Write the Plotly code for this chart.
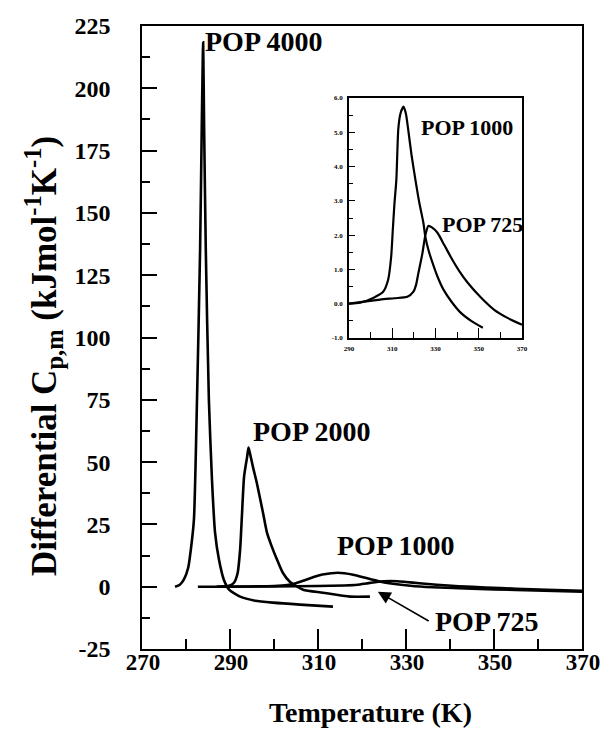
import plotly.graph_objects as go

# ---------------- data (main plot) ----------------
pop4000_T = [277.5, 278.6, 279.5, 280.5, 281.1, 281.8, 282.5, 283.2, 283.6, 283.9, 284.1, 284.5, 285.2,
             285.9, 286.6, 287.5, 288.6, 289.8, 292.3, 295.7, 299.8, 305.9, 313.4]
pop4000_v = [0, 0.8, 2.8, 7.6, 14.9, 26.9, 75, 135, 187, 218.5, 187, 135, 75,
             43, 21.7, 10.8, 2.8, -1.2, -4.0, -5.6, -6.4, -7.2, -8.0]

pop2000_T = [282.7, 287.7, 289.8, 290.9, 291.7, 292.3, 292.7, 293.2, 293.9, 294.2, 294.5, 295.2, 296.1,
             297.5, 298.4, 299.5, 300.7, 302.0, 303.6, 306.6, 311.1, 317.3, 321.8]
pop2000_v = [0, 0, 0.4, 1.6, 5.2, 14.9, 28.1, 44.2, 52.2, 55.8, 53.8, 48.2, 41.6,
             29.7, 21.7, 16.1, 10.8, 5.6, 2.0, -1.2, -2.4, -4.0, -4.0]

pop1000_T = [287, 295, 300, 303, 305, 307, 309, 311, 313, 314.5, 316, 318, 320, 322, 324, 327, 331, 336,
             345, 355, 370]
pop1000_v = [0, 0.1, 0.3, 0.7, 1.4, 2.6, 3.9, 4.9, 5.4, 5.6, 5.4, 4.8, 3.9, 3.0, 2.1, 1.2, 0.4, -0.2,
             -0.8, -1.3, -2.0]

pop725_T = [287, 300, 310, 316, 319, 321, 323, 325, 326.5, 328, 330, 333, 337, 342, 348, 355, 362, 370]
pop725_v = [0, 0.1, 0.3, 0.5, 0.8, 1.3, 1.8, 2.2, 2.3, 2.2, 1.9, 1.4, 0.8, 0.2, -0.3, -0.8, -1.2, -1.6]

# ---------------- data (inset) ----------------
in1000_T = [290, 295.1, 301.2, 305.8, 308.1, 309.5, 310.3, 311.0, 311.9, 312.8, 313.8, 315.2, 316.3,
            317.4, 319.0, 320.7, 322.5, 324.4, 325.3, 326.8, 328.6, 331.0, 333.7, 337.5, 341.6, 346.5, 351.9]
in1000_v = [0, 0.03, 0.17, 0.35, 0.70, 1.37, 2.2, 2.9, 3.62, 5.1, 5.55, 5.75, 5.55,
            5.07, 4.3, 3.62, 2.95, 2.36, 1.95, 1.55, 1.2, 0.78, 0.41, 0.05, -0.26, -0.5, -0.7]

in725_T = [290, 297, 304.4, 311, 317.0, 319.8, 321.0, 322.1, 323.1, 324.0, 325.3, 326.7, 328.5, 330.9,
           334, 337.0, 341, 344.9, 351, 357.0, 363.5, 370]
in725_v = [0, 0.06, 0.12, 0.16, 0.20, 0.35, 0.55, 0.90, 1.2, 1.49, 2.0, 2.27, 2.22, 2.07,
           1.72, 1.37, 0.95, 0.61, 0.18, -0.17, -0.42, -0.61]

# ---------------- ticks ----------------
main_xticks = [270, 290, 310, 330, 350, 370]
main_xtext = ["270", "290", "310", "330", "350", "370"]
main_yticks = [-25, 0, 25, 50, 75, 100, 125, 150, 175, 200, 225]
main_ytext = ["-25", "0", "25", "50", "75", "100", "125", "150", "175", "200", "225"]
in_xticks = [290, 310, 330, 350, 370]
in_xtext = ["290", "310", "330", "350", "370"]
in_yticks = [-1, 0, 1, 2, 3, 4, 5, 6]
in_ytext = ["-1.0", "0.0", "1.0", "2.0", "3.0", "4.0", "5.0", "6.0"]

FONT = "Liberation Serif, Times New Roman, serif"
LW = 2.6

fig = go.Figure()
for T, v in [(pop4000_T, pop4000_v), (pop2000_T, pop2000_v), (pop1000_T, pop1000_v), (pop725_T, pop725_v)]:
    fig.add_trace(go.Scatter(x=T, y=v, mode="lines", xaxis="x", yaxis="y",
                             line=dict(color="black", width=LW, shape="spline", smoothing=0.6),
                             showlegend=False, hoverinfo="skip"))
for T, v in [(in1000_T, in1000_v), (in725_T, in725_v)]:
    fig.add_trace(go.Scatter(x=T, y=v, mode="lines", xaxis="x2", yaxis="y2",
                             line=dict(color="black", width=2.2, shape="spline", smoothing=0.6),
                             showlegend=False, hoverinfo="skip"))

# plot area: x 142..582, y 26..649
L, R, T0, B = 142, 582, 26, 649
W, H = R - L, B - T0

def px(x):
    return (x - L) / W

def py(y):
    return (B - y) / H

xtickfont = dict(family=FONT, size=23, color="black", weight="bold")
ytickfont = dict(family=FONT, size=24, color="black", weight="bold")
infont = dict(family=FONT, size=7, color="black", weight="bold")

fig.update_layout(
    width=600, height=755,
    margin=dict(l=L, r=600 - R, t=T0, b=755 - B, autoexpand=False),
    paper_bgcolor="white", plot_bgcolor="white",
    showlegend=False,
    xaxis=dict(domain=[0, 1], range=[270, 370], anchor="y",
               tickmode="array", tickvals=main_xticks, ticktext=main_xtext,
               ticks="inside", ticklen=20, tickwidth=1.5, tickcolor="black",
               minor=dict(ticks="inside", ticklen=10, tickwidth=1.5, tickcolor="black",
                          tickmode="linear", tick0=270, dtick=10),
               showline=True, linecolor="black", linewidth=1.5, mirror=True,
               showgrid=False, zeroline=False, tickfont=xtickfont,
               ticklabelstandoff=-8, ticklabelshift=1, ticklabeloverflow="allow"),
    yaxis=dict(domain=[0, 1], range=[-25, 225], anchor="x",
               tickmode="array", tickvals=main_yticks, ticktext=main_ytext,
               ticks="inside", ticklen=15, tickwidth=1.5, tickcolor="black",
               minor=dict(ticks="inside", ticklen=8, tickwidth=1.5, tickcolor="black",
                          tickmode="linear", tick0=-25, dtick=12.5),
               showline=True, linecolor="black", linewidth=1.5, mirror=True,
               showgrid=False, zeroline=False, tickfont=ytickfont,
               ticklabelstandoff=25),
    xaxis2=dict(domain=[px(349), px(522)], range=[290, 370], anchor="y2",
                tickmode="array", tickvals=in_xticks, ticktext=in_xtext,
                ticks="inside", ticklen=10, tickwidth=1.2, tickcolor="black",
                minor=dict(ticks="inside", ticklen=6, tickwidth=1.2, tickcolor="black",
                           tickmode="linear", tick0=290, dtick=10),
                showline=True, linecolor="black", linewidth=1.5, mirror=True,
                showgrid=False, zeroline=False, tickfont=infont, ticklabelstandoff=3),
    yaxis2=dict(domain=[py(338), py(98)], range=[-1, 6], anchor="x2",
                tickmode="array", tickvals=in_yticks, ticktext=in_ytext,
                ticks="inside", ticklen=6, tickwidth=1.2, tickcolor="black",
                minor=dict(ticks="inside", ticklen=4, tickwidth=1.2, tickcolor="black",
                           tickmode="linear", tick0=-1, dtick=0.5),
                showline=True, linecolor="black", linewidth=1.5, mirror=True,
                showgrid=False, zeroline=False, tickfont=infont, ticklabelstandoff=3),
)

labfont = dict(family=FONT, size=28, color="black", weight="bold")
inlab = dict(family=FONT, size=22, color="black", weight="bold")

ann = [
    dict(text="POP 4000", x=297.5, y=218.9, xref="x", yref="y", showarrow=False, font=labfont,
         xanchor="center", yanchor="middle"),
    dict(text="POP 2000", x=308.6, y=62.2, xref="x", yref="y", showarrow=False, font=labfont,
         xanchor="center", yanchor="middle"),
    dict(text="POP 1000", x=327.5, y=16.5, xref="x", yref="y", showarrow=False, font=labfont,
         xanchor="center", yanchor="middle"),
    dict(text="POP 725", x=348.4, y=-14.1, xref="x", yref="y", showarrow=False, font=labfont,
         xanchor="center", yanchor="middle"),
    dict(text="", x=323.6, y=-2.0, xref="x", yref="y", ax=335.5, ay=-14.1, axref="x", ayref="y",
         showarrow=True, arrowhead=2, arrowsize=1.6, arrowwidth=1.6, arrowcolor="black"),
    dict(text="POP 1000", x=344.4, y=5.13, xref="x2", yref="y2", showarrow=False, font=inlab,
         xanchor="center", yanchor="middle"),
    dict(text="POP 725", x=351.9, y=2.30, xref="x2", yref="y2", showarrow=False, font=inlab,
         xanchor="center", yanchor="middle"),
    dict(text="Temperature (K)", x=px(370), y=py(712), xref="paper", yref="paper",
         xanchor="center", yanchor="middle",
         showarrow=False, font=dict(family=FONT, size=28, color="black", weight="bold")),
    dict(text="Differential C<sub>p,m</sub> (kJmol<sup>-1</sup>K<sup>-1</sup>)",
         x=px(43), y=py(356), xref="paper", yref="paper", textangle=-90,
         xanchor="center", yanchor="middle",
         showarrow=False, font=dict(family=FONT, size=35, color="black", weight="bold")),
]
fig.update_layout(annotations=ann)

fig.write_html("out.html")
